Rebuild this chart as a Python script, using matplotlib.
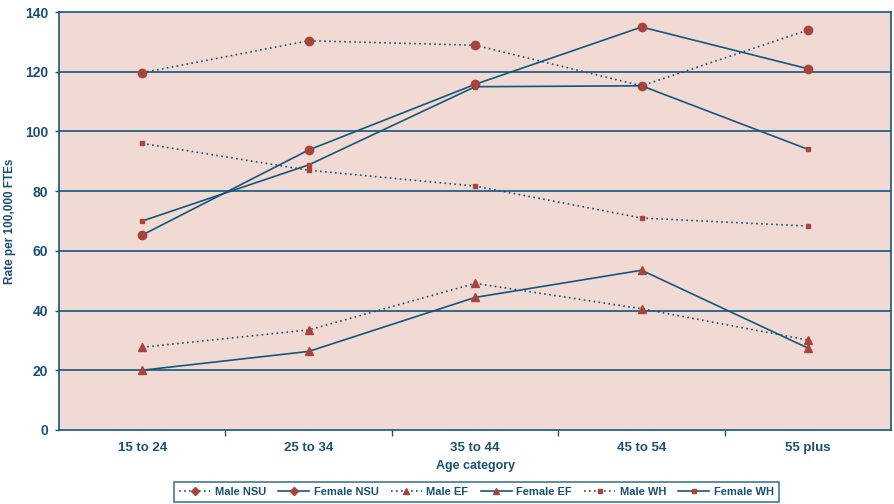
import matplotlib
matplotlib.use("Agg")
import matplotlib.pyplot as plt
from matplotlib.lines import Line2D

plt.rcParams["font.family"] = ["Liberation Sans", "DejaVu Sans"]
plt.rcParams["font.weight"] = "bold"
plt.rcParams["axes.labelweight"] = "bold"

# ---- Data ----
categories = ["15 to 24", "25 to 34", "35 to 44", "45 to 54", "55 plus"]
male_nsu = [119.7, 130.4, 128.9, 115.3, 134.0]
female_nsu = [65.3, 93.8, 115.8, 135.0, 121.0]
male_ef = [27.7, 33.5, 49.1, 40.6, 30.1]
female_ef = [20.0, 26.3, 44.4, 53.5, 27.4]
male_wh = [96.0, 87.0, 81.7, 71.0, 68.3]
female_wh = [70.0, 88.8, 115.0, 115.3, 94.0]

BG = "#F0DAD3"
LINE = "#15567E"
MARK = "#A8443B"
TEXT = "#1A4F75"

fig = plt.figure(figsize=(8.94, 5.04), dpi=100)
ax = fig.add_axes([0.066, 0.147, 0.931, 0.829])
ax.set_facecolor(BG)

x = list(range(len(categories)))
dotted = (0, (1, 2))
series = [
    (male_nsu, dotted, "o", 6),
    (female_nsu, "-", "o", 6),
    (male_ef, dotted, "^", 6),
    (female_ef, "-", "^", 6),
    (male_wh, dotted, "s", 3.5),
    (female_wh, "-", "s", 3.5),
]
for vals, ls, mk, ms in series:
    ax.plot(x, vals, color=LINE, linestyle=ls, linewidth=1.2, marker=mk,
            markersize=ms, markerfacecolor=MARK, markeredgecolor=MARK, zorder=3)

ax.set_xlim(-0.5, len(categories) - 0.5)
ax.set_ylim(0, 140)
ax.set_yticks(range(0, 141, 20))
for v in range(20, 140, 20):
    ax.axhline(v, color=LINE, linewidth=1.2, zorder=1)

ax.set_xticks(x)
ax.set_xticklabels(categories)
ax.set_xticks([i + 0.5 for i in x[:-1]], minor=True)
ax.tick_params(axis="x", which="major", length=0, pad=9, labelsize=9.5, labelcolor=TEXT)
ax.tick_params(axis="x", which="minor", length=4, width=1, color=LINE, direction="out")
ax.tick_params(axis="y", length=3, width=1, color=LINE, labelsize=10, labelcolor=TEXT, pad=5)

for s in ax.spines.values():
    s.set_color(LINE)
    s.set_linewidth(1.2)

ax.set_ylabel("Rate per 100,000 FTEs", fontsize=8.5, color=TEXT, labelpad=6)
ax.set_xlabel("Age category", fontsize=9, color=TEXT, labelpad=4)

labels = ["Male NSU", "Female NSU", "Male EF", "Female EF", "Male WH", "Female WH"]
handle_markers = ["D", "D", "^", "^", "s", "s"]
handles = []
for (vals, ls, mk, ms), hm in zip(series, handle_markers):
    handles.append(Line2D([], [], color=LINE, linestyle=ls, linewidth=1.2, marker=hm,
                          markersize=4.5 if hm != "s" else 3.5,
                          markerfacecolor=MARK, markeredgecolor=MARK))
leg = fig.legend(handles, labels, loc="center", bbox_to_anchor=(0.533, 0.024), ncol=6,
                 frameon=True, fancybox=False, fontsize=8, handlelength=2.8,
                 handletextpad=0.4, columnspacing=1.1, borderpad=0.45)
leg.get_frame().set_edgecolor(LINE)
leg.get_frame().set_linewidth(1.2)
for t in leg.get_texts():
    t.set_color(TEXT)

fig.savefig("out.png", dpi=100)
